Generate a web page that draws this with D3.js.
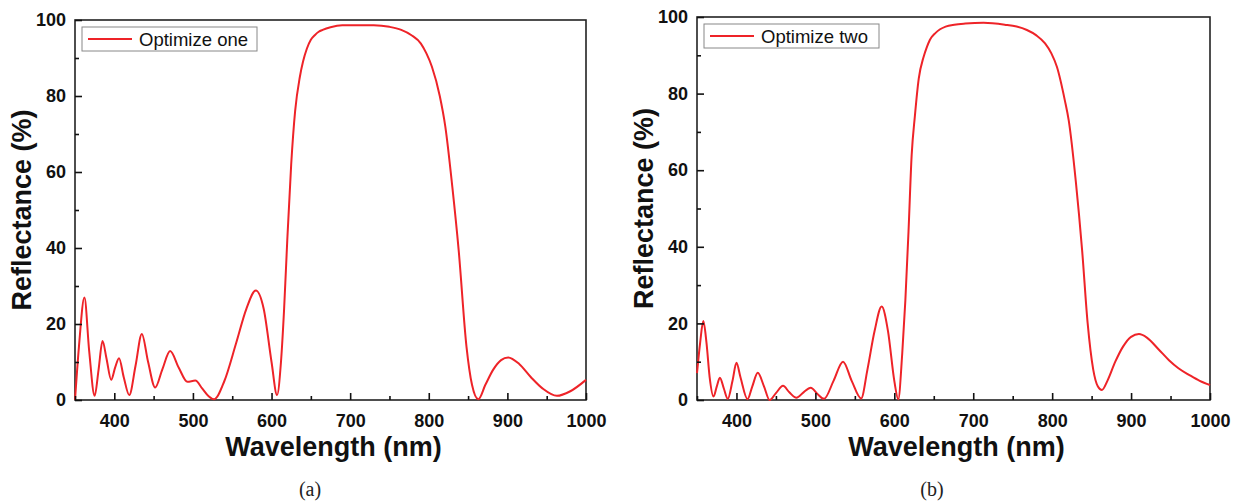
<!DOCTYPE html>
<html>
<head>
<meta charset="utf-8">
<script src="https://cdn.jsdelivr.net/npm/d3@7"></script>
<style>
    body { margin: 0; background: #fff; }
    svg text { font-family: "Liberation Sans", Arial, sans-serif; }
</style>
</head>
<body>
<div id="chart"></div>
<script>

// Panel (a): Optimize one
const waveA = [350, 355, 362, 368, 375, 380, 385, 390, 396, 401, 406, 412, 419, 427, 435, 443, 452, 461, 471, 482,
    493, 503, 512, 520, 527, 540, 555, 568, 580, 590, 600, 607, 612, 616, 620, 625, 630, 636, 640, 645,
    650, 655, 660, 665, 675, 690, 730, 750, 765, 778, 790, 797, 804, 814, 821, 830, 838, 848, 855, 863,
    872, 882, 892, 901, 915, 930, 945, 963, 980, 1000];
const reflA = [0, 14, 27, 13, 1.1, 8, 15.5, 11, 5.3, 8.5, 11, 6, 1.3, 9, 17.4, 10, 3.3, 8, 12.9, 8.5,
    4.8, 5.1, 3, 1, 0.2, 5, 15, 24, 28.8, 24, 10, 1.3, 10, 24, 42, 62, 76, 85, 89, 92.5,
    94.8, 96, 96.9, 97.4, 98.1, 98.6, 98.6, 98.2, 97.4, 96, 93.8, 91.2, 87.7, 80, 72, 56, 39.5, 14, 4, 0.2,
    4, 8, 10.5, 11.2, 9.5, 6, 3, 1.1, 2.3, 5.3];

// Panel (b): Optimize two
const waveB = [350, 354, 358, 362, 366, 371, 375, 379, 384, 389, 395, 400, 405, 414, 420, 427, 435, 442, 450, 459,
    467, 476, 485, 494, 503, 511, 523, 535, 546, 558, 566, 575, 584, 592, 600, 605, 610, 614, 618, 622,
    626, 631, 637, 641, 645, 652, 658, 665, 676, 690, 713, 740, 755, 768, 780, 791, 799, 806, 816, 821,
    830, 838, 845, 852, 858, 863, 870, 880, 890, 900, 910, 920, 935, 948, 960, 974, 987, 1000];
const reflB = [7, 15, 20.6, 15, 6, 0.9, 3.5, 5.8, 3, 0.3, 5, 9.7, 6, 0.2, 3.5, 7.1, 3.5, 0, 1.8, 3.7,
    2, 0.6, 2, 3.2, 1.5, 0.3, 5, 10, 5, 0.4, 8, 18, 24.4, 18, 5, 0.2, 12, 26, 44, 64,
    74, 84, 89.5, 92, 94, 95.8, 96.8, 97.5, 98, 98.3, 98.5, 98, 97.5, 96.6, 95.2, 93.1, 90.5, 87, 78.3, 73,
    57, 39, 20, 8, 3.5, 2.6, 5, 10, 14, 16.5, 17.2, 16.3, 13.2, 10.4, 8.3, 6.5, 5, 3.9];

const xMajorTicks = [400, 500, 600, 700, 800, 900, 1000];
const xMinorTicks = [350, 450, 550, 650, 750, 850, 950];
const yMajorTicks = [0, 20, 40, 60, 80, 100];
const yMinorTicks = [10, 30, 50, 70, 90];

const width = 1240;
const height = 502;
const lineColor = "#ee2328";

const svg = d3.select("#chart")
    .append("svg")
    .attr("width", width)
    .attr("height", height);

function drawPanel(opts) {

    const x = d3.scaleLinear()
        .domain([350, 1000])
        .range([opts.left, opts.right]);

    const y = d3.scaleLinear()
        .domain([0, 100])
        .range([opts.bottom, opts.top]);

    const g = svg.append("g");

    // Frame
    g.append("rect")
        .attr("x", opts.left)
        .attr("y", opts.top)
        .attr("width", opts.right - opts.left)
        .attr("height", opts.bottom - opts.top)
        .attr("fill", "none")
        .attr("stroke", "#222")
        .attr("stroke-width", 1.6);

    // Curve
    const points = opts.wave.map(function(w, i) {
        return [w, opts.refl[i]];
    });

    const line = d3.line()
        .x(function(d) { return x(d[0]); })
        .y(function(d) { return y(d[1]); })
        .curve(d3.curveMonotoneX);

    g.append("path")
        .datum(points)
        .attr("d", line)
        .attr("fill", "none")
        .attr("stroke", lineColor)
        .attr("stroke-width", 2);

    // Bottom axis, ticks pointing inside
    const xAxis = d3.axisBottom(x)
        .tickValues(xMajorTicks)
        .tickSize(-7)
        .tickPadding(14)
        .tickFormat(d3.format("d"));

    const xg = g.append("g")
        .attr("transform", "translate(0," + opts.bottom + ")")
        .call(xAxis);

    xg.select(".domain").remove();
    xg.selectAll("line").attr("stroke", "#111").attr("stroke-width", 1.6);
    xg.selectAll("text")
        .attr("font-family", "Liberation Sans, Arial, sans-serif")
        .attr("font-size", 18)
        .attr("font-weight", "bold")
        .attr("fill", "#111");

    const xMinor = d3.axisBottom(x)
        .tickValues(xMinorTicks)
        .tickSize(-4)
        .tickFormat("");

    const xmg = g.append("g")
        .attr("transform", "translate(0," + opts.bottom + ")")
        .call(xMinor);
    xmg.select(".domain").remove();
    xmg.selectAll("line").attr("stroke", "#111").attr("stroke-width", 1.6);

    // Left axis
    const yAxis = d3.axisLeft(y)
        .tickValues(yMajorTicks)
        .tickSize(-7)
        .tickPadding(9)
        .tickFormat(d3.format("d"));

    const yg = g.append("g")
        .attr("transform", "translate(" + opts.left + ",0)")
        .call(yAxis);

    yg.select(".domain").remove();
    yg.selectAll("line").attr("stroke", "#111").attr("stroke-width", 1.6);
    yg.selectAll("text")
        .attr("font-family", "Liberation Sans, Arial, sans-serif")
        .attr("font-size", 18)
        .attr("font-weight", "bold")
        .attr("fill", "#111");

    const yMinor = d3.axisLeft(y)
        .tickValues(yMinorTicks)
        .tickSize(-4)
        .tickFormat("");

    const ymg = g.append("g")
        .attr("transform", "translate(" + opts.left + ",0)")
        .call(yMinor);
    ymg.select(".domain").remove();
    ymg.selectAll("line").attr("stroke", "#111").attr("stroke-width", 1.6);

    // Axis titles
    g.append("text")
        .attr("x", (opts.left + opts.right) / 2 + 3)
        .attr("y", opts.bottom + 56)
        .attr("text-anchor", "middle")
        .attr("font-size", 27)
        .attr("font-weight", "bold")
        .attr("fill", "#111")
        .text("Wavelength (nm)");

    g.append("text")
        .attr("transform", "translate(" + (opts.left - 44) + "," + ((opts.top + opts.bottom) / 2) + ") rotate(-90)")
        .attr("text-anchor", "middle")
        .attr("font-size", 27)
        .attr("font-weight", "bold")
        .attr("fill", "#111")
        .text("Reflectance (%)");

    // Legend
    const lx = opts.left + 7;
    const ly = opts.top + 7;

    g.append("rect")
        .attr("x", lx)
        .attr("y", ly)
        .attr("width", 175)
        .attr("height", 24)
        .attr("fill", "#fff")
        .attr("stroke", "#888")
        .attr("stroke-width", 1);

    g.append("line")
        .attr("x1", lx + 6)
        .attr("x2", lx + 50)
        .attr("y1", ly + 12)
        .attr("y2", ly + 12)
        .attr("stroke", lineColor)
        .attr("stroke-width", 2);

    g.append("text")
        .attr("x", lx + 57)
        .attr("y", ly + 18.5)
        .attr("font-size", 18.5)
        .attr("fill", "#111")
        .text(opts.label);

    // Caption
    g.append("text")
        .attr("x", opts.caption)
        .attr("y", 496)
        .attr("text-anchor", "middle")
        .style("font-family", "Liberation Serif, Times New Roman, serif")
        .attr("font-size", 20)
        .attr("fill", "#222")
        .text(opts.tag);
}

drawPanel({
    wave: waveA,
    refl: reflA,
    left: 75,
    right: 586,
    top: 20,
    bottom: 400,
    label: "Optimize one",
    tag: "(a)",
    caption: 310
});

drawPanel({
    wave: waveB,
    refl: reflB,
    left: 697,
    right: 1210,
    top: 17,
    bottom: 400,
    label: "Optimize two",
    tag: "(b)",
    caption: 932
});

</script>
</body>
</html>
